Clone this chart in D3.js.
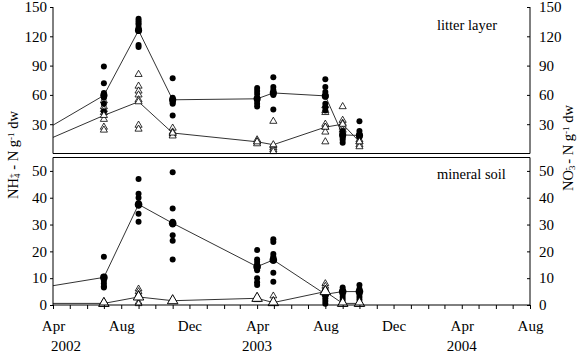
<!DOCTYPE html>
<html><head><meta charset="utf-8">
<script src="https://cdn.jsdelivr.net/npm/d3@7"></script>
<style>body{margin:0;background:#fff}svg{display:block}</style>
</head><body><svg id="c" width="577" height="353" font-family="Liberation Serif"></svg>
<script>
// ---- data ----
const sampleDates = ["2002-07-01","2002-09-01","2002-11-01","2003-04-01","2003-04-30","2003-08-01","2003-09-01","2003-10-01"];
const lineStartDate = "2002-04-01";
const monthLabels = ["Apr","Aug","Dec","Apr","Aug","Dec","Apr","Aug"];
const yearLabels = ["2002","2003","2004"];
const topTicks = [30,60,90,120,150];
const bottomTicks = [0,10,20,30,40,50];

// litter layer
const litterNH4 = [
  [89,72,62,61,59,57,51,43],
  [138,136,134,132,129,127,126,111,109],
  [77,57,55,54,52,51,39],
  [67,64,61,57,54,51,48],
  [78,68,65,62,60,45],
  [76,68,63,58,51,47,44],
  [23,20,18,16,14,11],
  [33,23,20,18,17]
];
const litterNH4Start = 29;
const litterNH4Mean = [59.5,126,55,56,62,59,19,18.5];
const litterNO3 = [
  [54,48,45,42,35,27,24],
  [81,69,64,60,55,29,25],
  [26,22,20,18],
  [14,12,10],
  [33,8,6,4,2],
  [49,44,42,30,27,22,12],
  [48,34,31,27,24],
  [14,12,9,7]
];
const litterNO3Start = 16.5;
const litterNO3Mean = [39,53,21,12,9,27,30,12];

// mineral soil
const soilNH4 = [
  [18,10.5,10,9,8,7,6.5],
  [47,41.5,40,38,37,34,31],
  [49.5,36,31,30,26,24,17],
  [20.5,17,16,15,14,13,10,8.5,7.5],
  [24.5,23.5,19,18,17.5,16.5,12,8.7],
  [5.5,4.5,3.5,2.5,1.5,0.5],
  [6.5,5.5,5,4,3,2],
  [7.5,6,5,4,3,2]
];
const soilNH4Start = 7.2;
const soilNH4Mean = [10.3,37.5,30.5,14.3,16.8,4,5,5];
const soilNO3 = [
  [1.2,0.5],
  [6,5,4,1,0.5],
  [1.5],
  [2.5,2],
  [3.4,1],
  [8,7,6,5],
  [1,0.5],
  [0.8,0.5]
];
const soilNO3Start = 0.6;
const soilNO3Mean = [0.6,3,1.6,2.5,0.9,5,0.6,0.6];

// ---- drawing ----
const FONT = "Liberation Serif";
const svg = d3.select("#c");
const parse = d3.timeParse("%Y-%m-%d");
const dates = sampleDates.map(parse);
const x = d3.scaleTime().domain([parse("2002-04-01"), parse("2004-08-01")]).range([53, 530]);
const L = 53, R = 530;
const yTop = d3.scaleLinear().domain([0,150]).range([153.5, 7]);
const yBot = d3.scaleLinear().domain([0,55]).range([305, 157.5]);

function panel(y, ticks, nh4, nh4Start, nh4Mean, no3, no3Start, no3Mean, big, label, labelY){
  const g = svg.append("g");
  const line = d3.line().x(d=>x(d[0])).y(d=>y(d[1]));
  const nh4Pts = [[parse(lineStartDate), nh4Start]].concat(dates.map((d,i)=>[d,nh4Mean[i]]));
  const no3Pts = [[parse(lineStartDate), no3Start]].concat(dates.map((d,i)=>[d,no3Mean[i]]));
  g.append("path").attr("d", line(nh4Pts)).attr("fill","none").attr("stroke","#333").attr("stroke-width",1);
  g.append("path").attr("d", line(no3Pts)).attr("fill","none").attr("stroke","#333").attr("stroke-width",1);
  const tri = d3.symbol().type(d3.symbolTriangle);
  const smallTri = tri.size(big ? 20 : 22)();
  const bigTri = tri.size(48)();
  no3.forEach((vals,i)=>vals.forEach(v=>{
    g.append("path").attr("d", smallTri).attr("transform",`translate(${x(dates[i])},${y(v)})`)
      .attr("fill","#fff").attr("stroke","#000").attr("stroke-width",0.8);
  }));
  nh4.forEach((vals,i)=>vals.forEach(v=>{
    g.append("circle").attr("cx", x(dates[i])).attr("cy", y(v)).attr("r", 3).attr("fill","#000");
  }));
  nh4Mean.forEach((v,i)=>{
    g.append("circle").attr("cx", x(dates[i])).attr("cy", y(v)).attr("r", big?3.8:3.6).attr("fill","#000");
  });
  no3Mean.forEach((v,i)=>{
    g.append("path").attr("d", big?bigTri:smallTri).attr("transform",`translate(${x(dates[i])},${y(v)})`)
      .attr("fill","#fff").attr("stroke","#000").attr("stroke-width",big?1:0.8);
  });
  const la = d3.axisLeft(y).tickValues(ticks).tickSize(3).tickPadding(3).tickFormat(d3.format("d"));
  const ra = d3.axisRight(y).tickValues(ticks).tickSize(-3).tickPadding(9).tickFormat(d3.format("d"));
  const ag1 = svg.append("g").attr("transform",`translate(${L},0)`).call(la);
  const ag2 = svg.append("g").attr("transform",`translate(${R},0)`).call(ra);
  [ag1,ag2].forEach(a=>{
    a.attr("font-family", FONT).attr("font-size", 15);
    a.select(".domain").remove();
    a.selectAll("line").attr("stroke","#000");
  });
  const [y0,y1] = y.range();
  svg.append("line").attr("x1",L).attr("x2",L).attr("y1",y1).attr("y2",y0).attr("stroke","#000");
  svg.append("line").attr("x1",R).attr("x2",R).attr("y1",y1).attr("y2",y0).attr("stroke","#000");
  svg.append("text").attr("x",437).attr("y",labelY).attr("font-family",FONT).attr("font-size",14.5).text(label);
}

panel(yTop, topTicks, litterNH4, litterNH4Start, litterNH4Mean, litterNO3, litterNO3Start, litterNO3Mean, false, "litter layer", 30);
panel(yBot, bottomTicks, soilNH4, soilNH4Start, soilNH4Mean, soilNO3, soilNO3Start, soilNO3Mean, true, "mineral soil", 179);

svg.append("line").attr("x1",L).attr("x2",R).attr("y1",yTop(0)).attr("y2",yTop(0)).attr("stroke","#000");
svg.append("line").attr("x1",L).attr("x2",R).attr("y1",yBot(55)).attr("y2",yBot(55)).attr("stroke","#000");

const months = d3.timeMonth.range(parse("2002-04-01"), d3.timeDay.offset(parse("2004-08-01"),1));
const xa = d3.axisBottom(x).tickValues(months).tickSize(4).tickPadding(11)
  .tickFormat((d,i)=> i%4===0 ? monthLabels[i/4] : "");
const xg = svg.append("g").attr("transform",`translate(0,${yBot(0)})`).call(xa);
xg.attr("font-family", FONT).attr("font-size", 15);
xg.select(".domain").attr("stroke","#000").attr("d",`M${L},0H${R}`);
xg.selectAll("line").attr("stroke","#000");
const yearDates = ["2002-04-01","2003-04-01","2004-04-01"].map(parse);
const yearOffsets = [13,0,0];
yearLabels.forEach((t,i)=>{
  svg.append("text").attr("x", x(yearDates[i])+yearOffsets[i]).attr("y",351).attr("text-anchor","middle")
    .attr("font-family",FONT).attr("font-size",15).text(t);
});

function title(xp, yp, main, sub, sup){
  const t = svg.append("text").attr("transform",`translate(${xp},${yp}) rotate(-90)`).attr("text-anchor","middle")
    .attr("font-family",FONT).attr("font-size",14.5);
  t.append("tspan").text(main);
  t.append("tspan").attr("baseline-shift","-25%").attr("font-size",9).text(sub);
  t.append("tspan").attr("baseline-shift","45%").attr("dx",-5).attr("font-size",9).text(sup);
  t.append("tspan").text(" - N g");
  t.append("tspan").attr("baseline-shift","45%").attr("font-size",9).text("-1");
  t.append("tspan").text(" dw");
}
title(18, 155, "NH", "4", "+");
title(573, 148, "NO", "3", "-");
</script></body></html>
